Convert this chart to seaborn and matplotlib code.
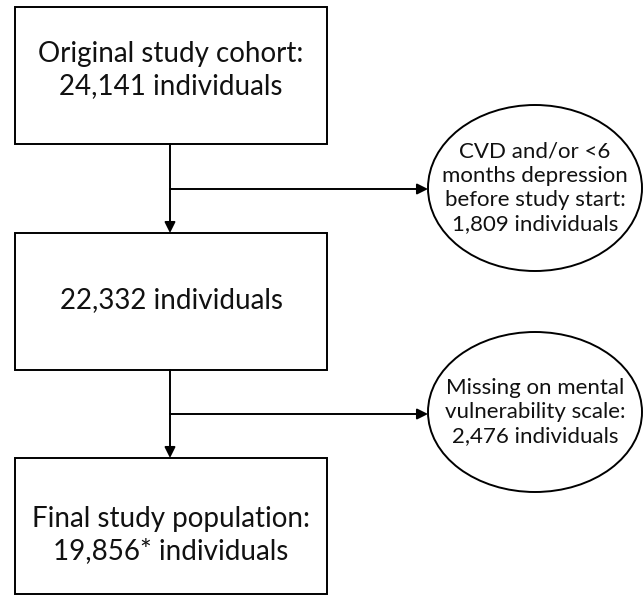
import matplotlib
matplotlib.use('Agg')
import matplotlib.pyplot as plt
from matplotlib.patches import Rectangle, Ellipse
import seaborn as sns

# Flowchart content
box_texts = ['Original study cohort:\n24,141 individuals',
             '22,332 individuals',
             'Final study population:\n19,856* individuals']
excl_texts = ['CVD and/or <6\nmonths depression\nbefore study start:\n1,809 individuals',
              'Missing on mental\nvulnerability scale:\n2,476 individuals']

sns.set_theme(style='white')
plt.rcParams['font.family'] = ['Lato', 'DejaVu Sans']

fig = plt.figure(figsize=(6.43, 5.96), dpi=100)
ax = fig.add_axes([0, 0, 1, 1])
ax.set_xlim(0, 643)
ax.set_ylim(596, 0)
ax.axis('off')

lw = 1.4
# boxes: (top, bottom)
box_y = [(7, 144), (233, 370), (458, 594)]
box_text_y = [70, 300, 535]
bx0, bx1 = 15, 327
cx = 170
for (t, b), ty, txt in zip(box_y, box_text_y, box_texts):
    ax.add_patch(Rectangle((bx0, t), bx1 - bx0, b - t, fill=False,
                           edgecolor='black', lw=lw))
    ax.text((bx0 + bx1) / 2, ty, txt, ha='center', va='center',
            fontsize=20, linespacing=1.3, color='#111111')

# vertical arrows between boxes
for i in range(2):
    ax.annotate('', xy=(cx, box_y[i + 1][0]), xytext=(cx, box_y[i][1]),
                arrowprops=dict(arrowstyle='-|>', color='black', lw=lw,
                                mutation_scale=16, shrinkA=0, shrinkB=0))

# exclusion ellipses and side arrows
ell_c = [(535, 188), (535, 412)]
ell_h = [166, 160]
arrow_y = [189, 414]
ell_w = 214
for (ex, ey), eh, ay, txt in zip(ell_c, ell_h, arrow_y, excl_texts):
    ax.add_patch(Ellipse((ex, ey), ell_w, eh, fill=False,
                         edgecolor='black', lw=lw))
    ax.annotate('', xy=(ex - ell_w / 2, ay), xytext=(cx, ay),
                arrowprops=dict(arrowstyle='-|>', color='black', lw=lw,
                                mutation_scale=16, shrinkA=0, shrinkB=0))
    ax.text(ex, ey, txt, ha='center', va='center', fontsize=16,
            linespacing=1.25, color='#111111')

fig.savefig('out.png', dpi=100, facecolor='white')
